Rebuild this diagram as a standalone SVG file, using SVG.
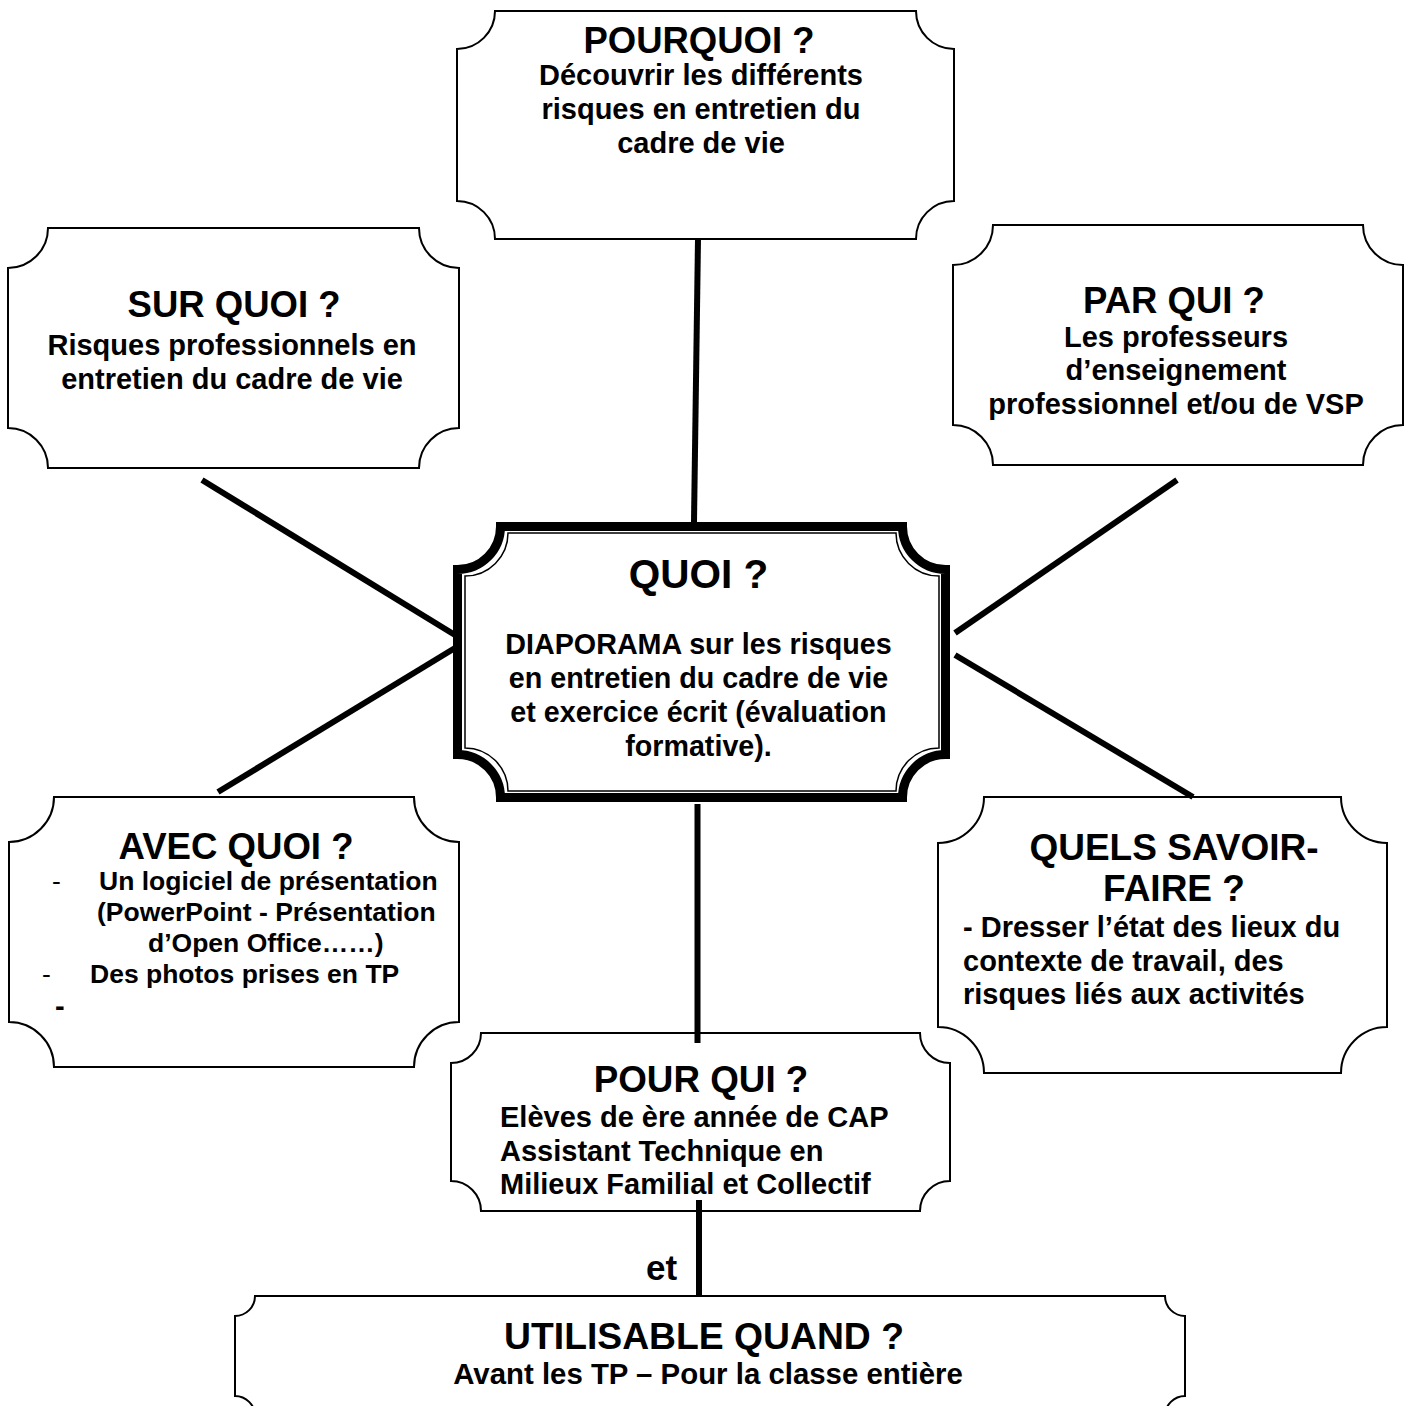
<svg xmlns="http://www.w3.org/2000/svg" width="1407" height="1406" viewBox="0 0 1407 1406">
<style>
.box{fill:#fff;stroke:#000;stroke-width:2}
.t{font-family:"Liberation Sans",Arial,sans-serif;font-weight:bold;fill:#000}
.c{text-anchor:middle}
.h{font-size:36.5px}
.b{font-size:29px}
.conn line{stroke:#000;stroke-width:6;stroke-linecap:butt}
</style>
<rect width="1407" height="1406" fill="#fff"/>

<g id="pourquoi">
<path class="box" d="M495,11 H916 A38,38 0 0 0 954,49 V201 A38,38 0 0 0 916,239 H495 A38,38 0 0 0 457,201 V49 A38,38 0 0 0 495,11 Z"/>
<text class="t c h" x="699" y="53">POURQUOI ?</text>
<text class="t c b" x="701" y="85">Découvrir les différents</text>
<text class="t c b" x="701" y="119">risques en entretien du</text>
<text class="t c b" x="701" y="153">cadre de vie</text>
</g>

<g id="surquoi">
<path class="box" d="M48,228 H419 A40,40 0 0 0 459,268 V428 A40,40 0 0 0 419,468 H48 A40,40 0 0 0 8,428 V268 A40,40 0 0 0 48,228 Z"/>
<text class="t c h" x="234" y="317">SUR QUOI ?</text>
<text class="t c b" x="232" y="355">Risques professionnels en</text>
<text class="t c b" x="232" y="388.5">entretien du cadre de vie</text>
</g>

<g id="parqui">
<path class="box" d="M993,225 H1363 A40,40 0 0 0 1403,265 V425 A40,40 0 0 0 1363,465 H993 A40,40 0 0 0 953,425 V265 A40,40 0 0 0 993,225 Z"/>
<text class="t c h" x="1174" y="313">PAR QUI ?</text>
<text class="t c b" x="1176" y="347">Les professeurs</text>
<text class="t c b" x="1176" y="380">d’enseignement</text>
<text class="t c b" x="1176" y="413.5">professionnel et/ou de VSP</text>
</g>

<g id="quoi">
<path fill="#fff" stroke="#000" stroke-width="9" d="M500.5,526.5 H902.5 A43,43 0 0 0 945.5,569.5 V754.5 A43,43 0 0 0 902.5,797.5 H500.5 A43,43 0 0 0 457.5,754.5 V569.5 A43,43 0 0 0 500.5,526.5 Z"/>
<path fill="none" stroke="#000" stroke-width="1.5" d="M508,533 H896 A43,43 0 0 0 939,576 V748 A43,43 0 0 0 896,791 H508 A43,43 0 0 0 465,748 V576 A43,43 0 0 0 508,533 Z"/>
<text class="t c" x="698.5" y="588" font-size="40.5">QUOI ?</text>
<text class="t c" x="698.5" y="654" font-size="28.7">DIAPORAMA sur les risques</text>
<text class="t c" x="698.5" y="688" font-size="28.7">en entretien du cadre de vie</text>
<text class="t c" x="698.5" y="722" font-size="28.7">et exercice écrit (évaluation</text>
<text class="t c" x="698.5" y="756" font-size="28.7">formative).</text>
</g>

<g id="avecquoi">
<path class="box" d="M54,797 H414 A45,45 0 0 0 459,842 V1022 A45,45 0 0 0 414,1067 H54 A45,45 0 0 0 9,1022 V842 A45,45 0 0 0 54,797 Z"/>
<text class="t c" x="236" y="858.5" font-size="36.6">AVEC QUOI ?</text>
<text x="52" y="890" font-family="Liberation Sans, Arial, sans-serif" font-size="26.5">-</text>
<text class="t" x="99" y="890" font-size="26.5">Un logiciel de présentation</text>
<text class="t" x="97" y="921" font-size="26.5">(PowerPoint - Présentation</text>
<text class="t" x="148" y="952" font-size="26.5">d’Open Office……)</text>
<text x="42" y="983" font-family="Liberation Sans, Arial, sans-serif" font-size="26.5">-</text>
<text class="t" x="90" y="983" font-size="26.5">Des photos prises en TP</text>
<text class="t" x="55" y="1016" font-size="29">-</text>
</g>

<g id="quelssavoirfaire">
<path class="box" d="M984,797 H1341 A46,46 0 0 0 1387,843 V1027 A46,46 0 0 0 1341,1073 H984 A46,46 0 0 0 938,1027 V843 A46,46 0 0 0 984,797 Z"/>
<text class="t c" x="1174" y="860" font-size="37">QUELS SAVOIR-</text>
<text class="t c" x="1174" y="901" font-size="37">FAIRE ?</text>
<text class="t b" x="963" y="937">- Dresser l’état des lieux du</text>
<text class="t b" x="963" y="970.5">contexte de travail, des</text>
<text class="t b" x="963" y="1003.5">risques liés aux activités</text>
</g>

<g id="pourqui">
<path class="box" d="M481,1033 H920 A30,30 0 0 0 950,1063 V1181 A30,30 0 0 0 920,1211 H481 A30,30 0 0 0 451,1181 V1063 A30,30 0 0 0 481,1033 Z"/>
<text class="t c" x="701" y="1092" font-size="36.8">POUR QUI ?</text>
<text class="t b" x="500" y="1127">Elèves de ère année de CAP</text>
<text class="t b" x="500" y="1160.5">Assistant Technique en</text>
<text class="t b" x="500" y="1194">Milieux Familial et Collectif</text>
</g>

<g id="utilisable">
<path class="box" d="M255,1296 H1165 A20,20 0 0 0 1185,1316 V1396 A20,20 0 0 0 1165,1416 H255 A20,20 0 0 0 235,1396 V1316 A20,20 0 0 0 255,1296 Z"/>
<text class="t c" x="704" y="1349" font-size="37.3">UTILISABLE QUAND ?</text>
<text class="t c" x="708" y="1384" font-size="29.4">Avant les TP – Pour la classe entière</text>
</g>

<g class="conn" id="connectors">
<line x1="698" y1="239" x2="694" y2="522"/>
<line x1="697.5" y1="804" x2="697.5" y2="1043"/>
<line x1="699" y1="1200" x2="699" y2="1296"/>
<line x1="202" y1="480" x2="455" y2="635"/>
<line x1="455" y1="648" x2="218" y2="792"/>
<line x1="955" y1="633" x2="1177" y2="480"/>
<line x1="955" y1="655" x2="1193" y2="797"/>
</g>
<text class="t" x="646" y="1280" font-size="35">et</text>
</svg>
